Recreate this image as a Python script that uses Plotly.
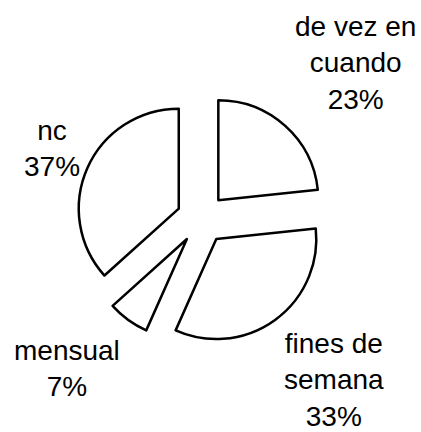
import plotly.graph_objects as go

# Data
categories = ["de vez en cuando", "fines de semana", "mensual", "nc"]
display_labels = ["de vez en<br>cuando", "fines de<br>semana", "mensual", "nc"]
values = [7, 10, 2, 11]

W, H = 421, 432
total = sum(values)

fig = go.Figure()
fig.add_trace(go.Pie(
    labels=categories,
    values=values,
    sort=False,
    direction="clockwise",
    rotation=0,
    pull=0.25,
    textinfo="none",
    hoverinfo="label+percent",
    showlegend=False,
    marker=dict(colors=["white"] * len(values), line=dict(color="black", width=2.5)),
    domain=dict(x=[(201.6 - 125) / W, (201.6 + 125) / W],
                y=[(H - 218.8 - 125) / H, (H - 218.8 + 125) / H]),
))

# label text positions (pixel centres) per category
label_pos = {
    "de vez en cuando": (355, 63),
    "fines de semana": (334, 380),
    "mensual": (67.4, 368),
    "nc": (51.5, 148),
}
for cat, disp, v in zip(categories, display_labels, values):
    px, py = label_pos[cat]
    fig.add_annotation(
        x=px / W, y=1 - py / H, xref="paper", yref="paper",
        text=f"{disp}<br>{round(100 * v / total)}%",
        showarrow=False, xanchor="center", yanchor="middle", align="center",
        font=dict(family="Liberation Sans, Arial, sans-serif", size=28, color="black"),
    )

fig.update_layout(
    width=W, height=H,
    margin=dict(l=0, r=0, t=0, b=0),
    paper_bgcolor="white", plot_bgcolor="white",
)
fig.write_html("out.html", config={"displayModeBar": False},
               post_script="document.body.style.margin='0';")
